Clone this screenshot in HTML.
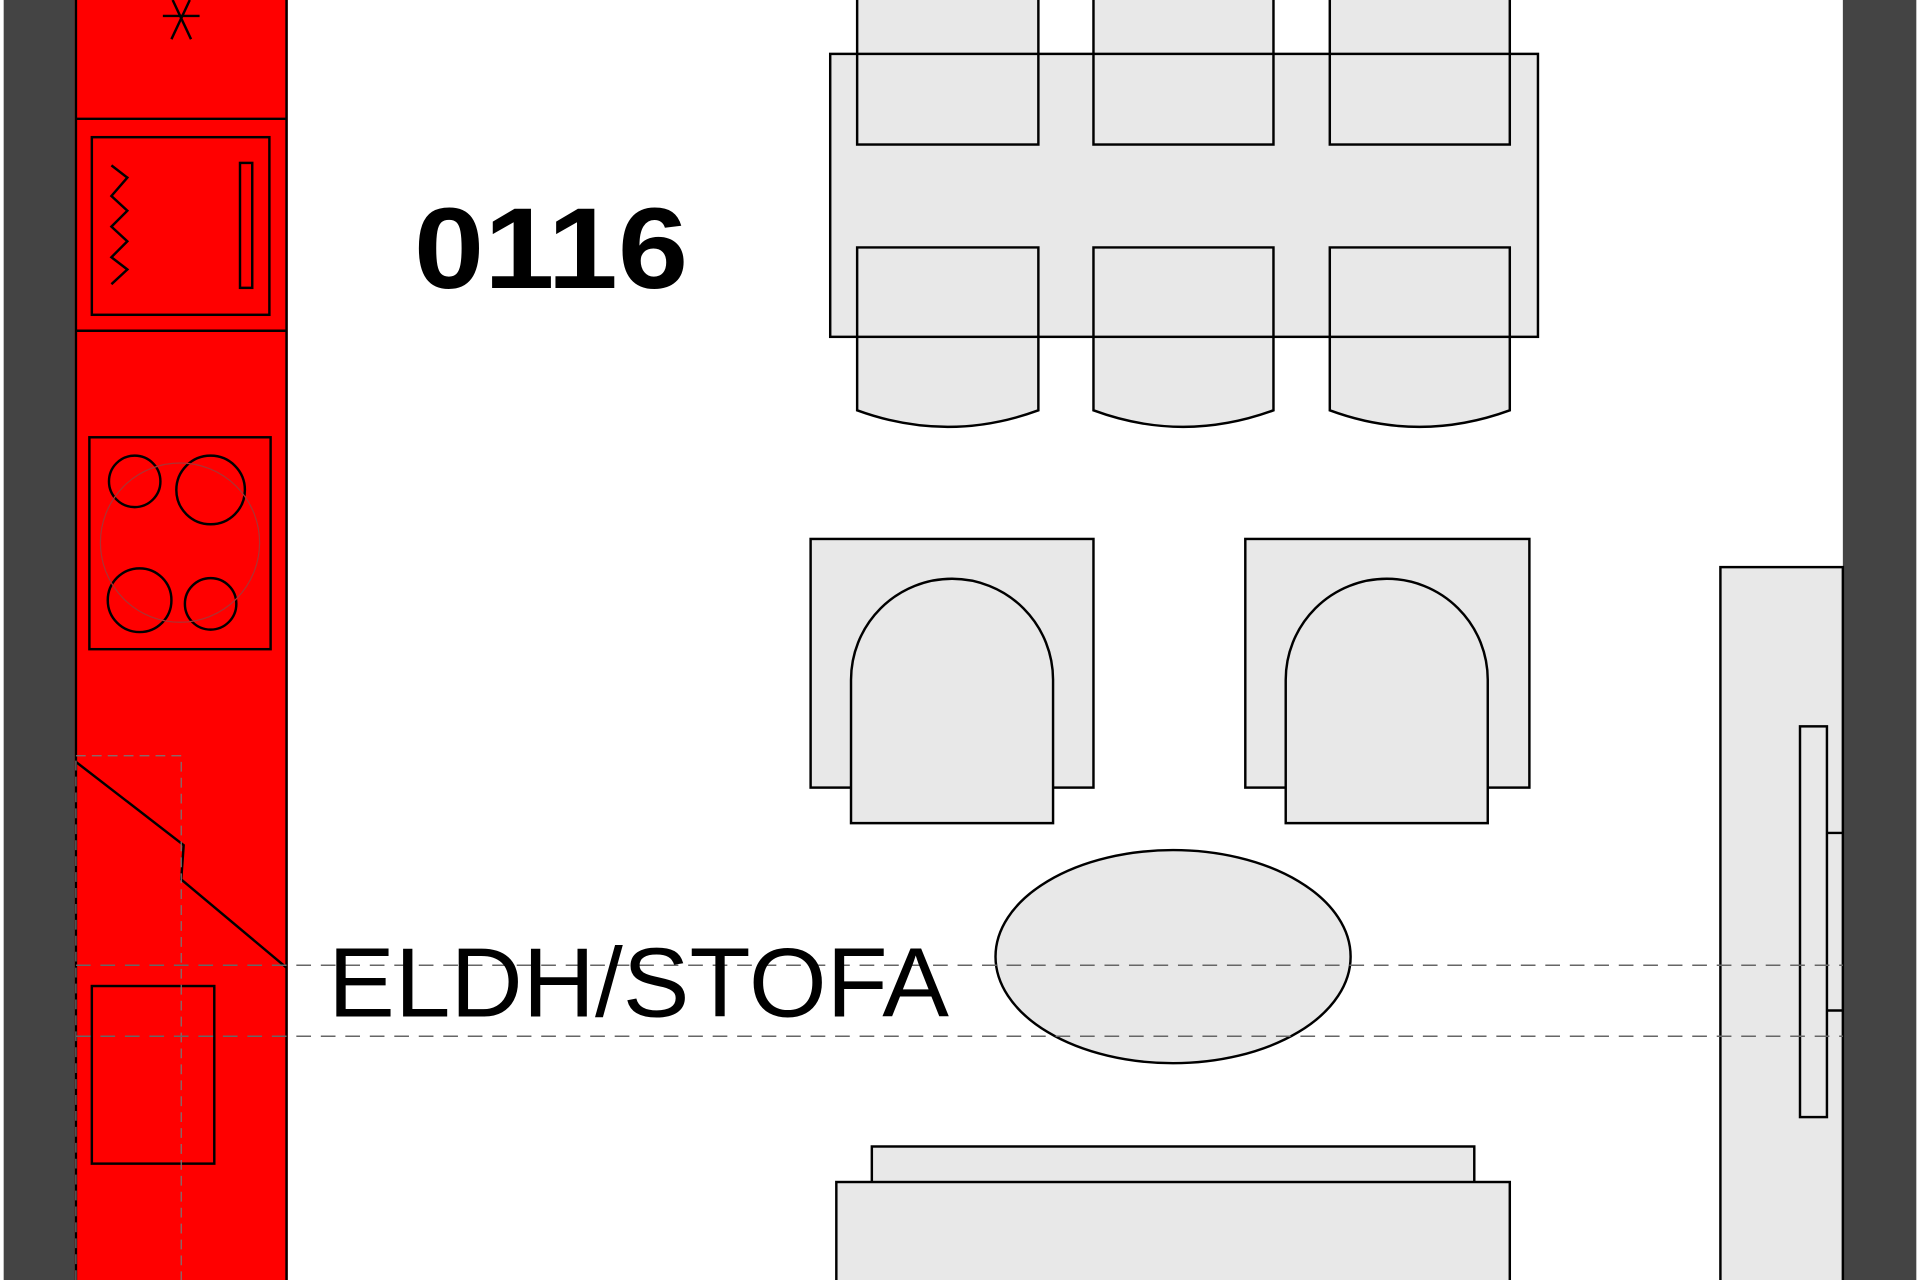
<!DOCTYPE html>
<html><head><meta charset="utf-8"><style>html,body{margin:0;padding:0;background:#fff;overflow:hidden}svg{display:block}</style></head>
<body>
<svg width="1920" height="1280" viewBox="0 0 1568 1045" preserveAspectRatio="none" xmlns="http://www.w3.org/2000/svg">
<rect width="1568" height="1045" fill="#fff"/>
<rect x="3" y="0" width="58" height="1045" fill="#444"/>
<rect x="1505" y="0" width="60" height="1045" fill="#444"/>
<rect x="61" y="0" width="174" height="1045" fill="#ff0000"/>
<g stroke="#000" stroke-width="2" fill="none">
<line x1="62" y1="0" x2="62" y2="1045"/>
<line x1="234" y1="0" x2="234" y2="1045"/>
<line x1="62" y1="97" x2="234" y2="97"/>
<line x1="62" y1="270" x2="234" y2="270"/>
<line x1="133" y1="13" x2="163" y2="13"/>
<line x1="140" y1="32" x2="155" y2="0"/>
<line x1="156" y1="32" x2="141" y2="0"/>
<rect x="75" y="112" width="145" height="145"/>
<polyline points="91,135 104,145 91,160 104,172 91,185 104,197 91,210 104,220 91,232"/>
<rect x="196" y="133" width="10" height="102"/>
<rect x="73" y="357" width="148" height="173"/>
<circle cx="110" cy="393" r="21"/>
<circle cx="172" cy="400" r="28"/>
<circle cx="114" cy="490" r="26"/>
<circle cx="172" cy="493" r="21"/>
<rect x="75" y="805" width="100" height="145"/>
<polyline points="62,622 150,690 148,718 234,790"/>
</g>
<circle cx="147" cy="443" r="65" fill="none" stroke="#a33" stroke-width="1"/>
<rect x="62" y="617" width="86" height="440" fill="none" stroke="#777" stroke-width="1" stroke-dasharray="8,5"/>
<g stroke="#000" stroke-width="2" fill="#e8e8e8">
<rect x="678" y="44" width="578" height="231" stroke="none"/>
<rect x="700" y="-5" width="148" height="123"/>
<rect x="893" y="-5" width="147" height="123"/>
<rect x="1086" y="-5" width="147" height="123"/>
<path d="M700,202 H848 V335 Q774,362 700,335 Z"/>
<path d="M893,202 H1040 V335 Q966,362 893,335 Z"/>
<path d="M1086,202 H1233 V335 Q1159,362 1086,335 Z"/>
<rect x="678" y="44" width="578" height="231" fill="none"/>
<rect x="662" y="440" width="231" height="203"/>
<path d="M695,672 V555 A82.5,82.5 0 0 1 860,555 V672 Z"/>
<rect x="1017" y="440" width="232" height="203"/>
<path d="M1050,672 V555 A82.5,82.5 0 0 1 1215,555 V672 Z"/>
<ellipse cx="958" cy="781" rx="145" ry="87"/>
<rect x="712" y="936" width="492" height="120"/>
<rect x="683" y="965" width="550" height="90"/>
<rect x="1405" y="463" width="100" height="590"/>
<rect x="1470" y="593" width="22" height="319"/>
<line x1="1492" y1="680" x2="1505" y2="680"/>
<line x1="1492" y1="825" x2="1505" y2="825"/>
</g>
<g stroke="#666" stroke-width="1.2" stroke-dasharray="12,8">
<line x1="62" y1="788" x2="1505" y2="788"/>
<line x1="62" y1="846" x2="1505" y2="846"/>
</g>
<text x="338" y="235" font-family="Liberation Sans, sans-serif" font-weight="bold" font-size="94" textLength="224" lengthAdjust="spacingAndGlyphs">0116</text>
<text x="268" y="830" font-family="Liberation Sans, sans-serif" font-size="80" textLength="507" lengthAdjust="spacingAndGlyphs">ELDH/STOFA</text>
</svg>
</body></html>
